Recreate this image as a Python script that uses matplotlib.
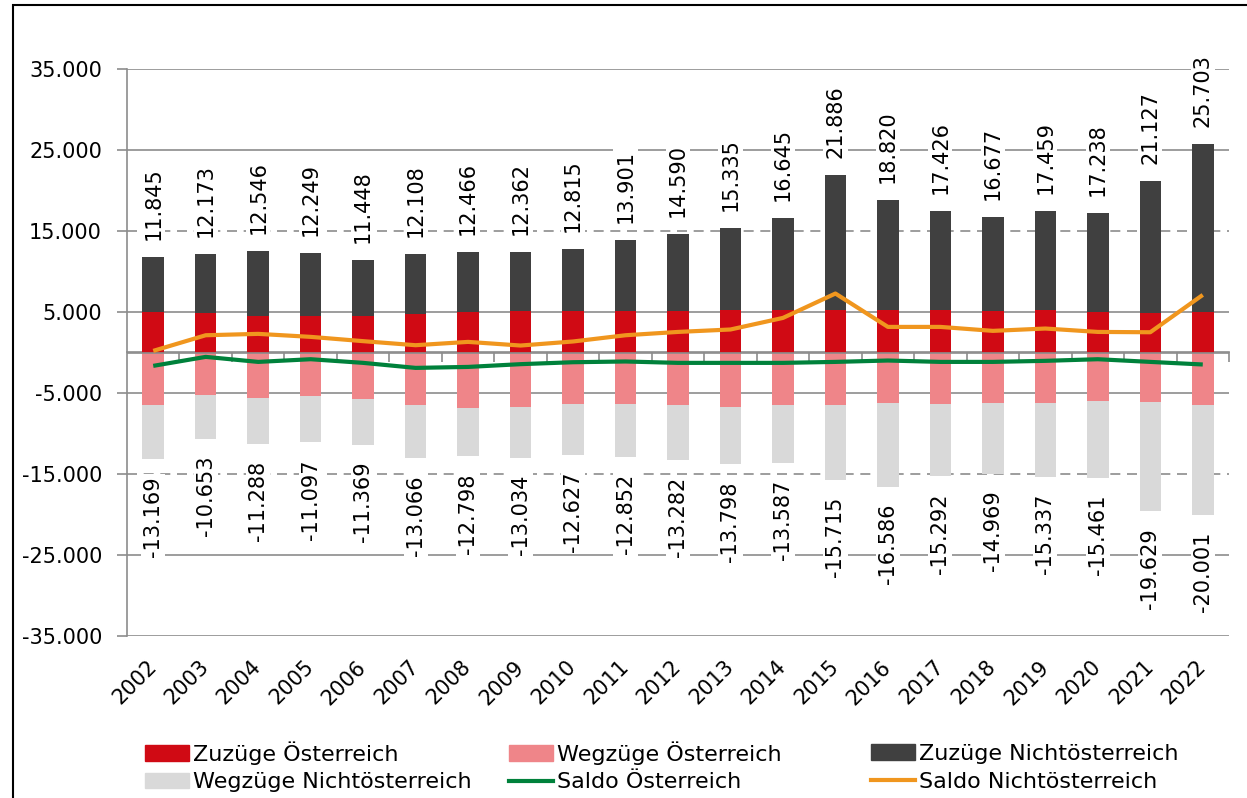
import matplotlib
matplotlib.use("Agg")
import matplotlib.pyplot as plt
from matplotlib.patches import Patch, Rectangle
from matplotlib.lines import Line2D
from matplotlib.ticker import FuncFormatter, NullFormatter
import numpy as np

plt.rcParams['font.family'] = ['DejaVu Sans']

years = [str(y) for y in range(2002, 2023)]
zuzuege_oe = [5000, 4850, 4550, 4550, 4550, 4700, 5000, 5100, 5100, 5100, 5100,
              5300, 5300, 5300, 5300, 5300, 5100, 5300, 5000, 4850, 5000]
zuzuege_total = [11845, 12173, 12546, 12249, 11448, 12108, 12466, 12362, 12815, 13901, 14590,
                 15335, 16645, 21886, 18820, 17426, 16677, 17459, 17238, 21127, 25703]
wegzuege_oe = [-6450, -5270, -5600, -5430, -5770, -6470, -6840, -6670, -6380, -6380, -6500,
               -6670, -6500, -6500, -6260, -6380, -6260, -6260, -5930, -6050, -6500]
wegzuege_total = [-13169, -10653, -11288, -11097, -11369, -13066, -12798, -13034, -12627, -12852, -13282,
                  -13798, -13587, -15715, -16586, -15292, -14969, -15337, -15461, -19629, -20001]
saldo_oe = [-1650, -540, -1160, -830, -1280, -1900, -1780, -1440, -1200, -1110, -1280,
            -1280, -1280, -1160, -990, -1160, -1160, -1030, -830, -1160, -1480]
saldo_noe = [200, 2130, 2300, 1930, 1400, 900, 1310, 860, 1360, 2130, 2540,
             2840, 4270, 7280, 3160, 3160, 2670, 2960, 2540, 2500, 7110]

zuzuege_noe = [t - a for t, a in zip(zuzuege_total, zuzuege_oe)]
wegzuege_noe = [t - a for t, a in zip(wegzuege_total, wegzuege_oe)]

c_red = '#d00a14'
c_pink = '#ef8589'
c_dark = '#404040'
c_light = '#d9d9d9'
c_green = '#00813b'
c_orange = '#f0961e'
c_grid = '#8c8c8c'

FS = 15

W, H = 1247, 798
fig = plt.figure(figsize=(W / 100, H / 100), dpi=100)
ax = fig.add_axes([127 / W, 1 - 636 / H, (1229 - 127) / W, (636 - 69) / H])

x = np.arange(len(years))
bw = 0.41
ax.bar(x, zuzuege_oe, bw, color=c_red, zorder=3)
ax.bar(x, zuzuege_noe, bw, bottom=zuzuege_oe, color=c_dark, zorder=3)
ax.bar(x, wegzuege_oe, bw, color=c_pink, zorder=3)
ax.bar(x, wegzuege_noe, bw, bottom=wegzuege_oe, color=c_light, zorder=3)
ax.axhline(0, color=c_grid, lw=1.2, zorder=3.5)
ax.plot(x, saldo_oe, color=c_green, lw=3, zorder=4, solid_capstyle='butt')
ax.plot(x, saldo_noe, color=c_orange, lw=3, zorder=4, solid_capstyle='butt')

ax.set_xlim(-0.5, len(years) - 0.5)
ax.set_ylim(-35000, 35000)
yt = list(range(-35000, 35001, 10000))
ax.set_yticks(yt)
ax.yaxis.set_major_formatter(FuncFormatter(lambda v, p: f"{int(v):,}".replace(',', '.')))
for v in yt:
    ls = (0, (6, 4)) if abs(v) == 15000 else '-'
    ax.axhline(v, color=c_grid, lw=1.2, ls=ls, zorder=1)

for s in ['top', 'right', 'bottom']:
    ax.spines[s].set_visible(False)
ax.spines['left'].set_color(c_grid)
ax.spines['left'].set_linewidth(1.2)
ax.tick_params(axis='y', length=7, width=1.2, color=c_grid, labelsize=FS, pad=11)
ax.set_xticks(x)
ax.set_xticklabels(years, rotation=45, ha='right', va='center', rotation_mode='anchor', fontsize=FS)
ax.tick_params(axis='x', length=0, pad=20)

# category axis at zero with boundary tick marks
sec = ax.secondary_xaxis(0.5)
sec.set_xticks(np.arange(0.5, len(years), 1.0))
sec.xaxis.set_major_formatter(NullFormatter())
sec.xaxis.set_ticks_position('bottom')
sec.tick_params(axis='x', which='both', direction='out', length=7, width=1.2, color=c_grid,
                bottom=True, top=False, labelbottom=False, labeltop=False)
for s in sec.spines.values():
    s.set_color(c_grid)
    s.set_linewidth(1.2)

bbox = dict(facecolor='white', edgecolor='none', pad=1.5)
for i in range(len(years)):
    ax.annotate(f"{zuzuege_total[i]:,}".replace(',', '.'), (x[i], zuzuege_total[i]),
                xytext=(0, 17), textcoords='offset pixels', rotation=90,
                ha='center', va='bottom', fontsize=FS, bbox=bbox, zorder=5)
    ax.annotate(f"{wegzuege_total[i]:,}".replace(',', '.'), (x[i], wegzuege_total[i]),
                xytext=(0, -17), textcoords='offset pixels', rotation=90,
                ha='center', va='top', fontsize=FS, bbox=bbox, zorder=5)

# legend in three fixed columns
h_zoe = Patch(color=c_red, label='Zuzüge Österreich')
h_woe = Patch(color=c_pink, label='Wegzüge Österreich')
h_znoe = Patch(color=c_dark, label='Zuzüge Nichtösterreich')
h_wnoe = Patch(color=c_light, label='Wegzüge Nichtösterreich')
h_soe = Line2D([], [], color=c_green, lw=3, label='Saldo Österreich')
h_snoe = Line2D([], [], color=c_orange, lw=3, label='Saldo Nichtösterreich')
cols = [([h_zoe, h_wnoe], 145, 741), ([h_woe, h_soe], 509, 741), ([h_znoe, h_snoe], 871, 744)]
for hs, px, py in cols:
    fig.legend(handles=hs, loc='upper left', bbox_to_anchor=(px / W, 1 - py / H),
               frameon=False, fontsize=16, handlelength=2.0, handleheight=0.7,
               handletextpad=0.15, borderpad=0, borderaxespad=0, labelspacing=0.35)

# outer frame
fig.add_artist(Rectangle((13 / W, -0.1), 1.2, 1 - 5 / H + 0.1, transform=fig.transFigure,
                         fill=False, edgecolor='black', lw=1.5))

fig.savefig('out.png', dpi=100)
